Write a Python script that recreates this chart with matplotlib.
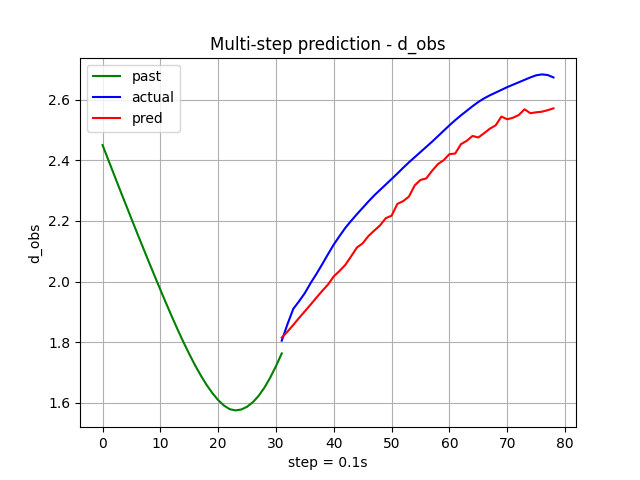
import matplotlib
matplotlib.use("Agg")
import matplotlib.pyplot as plt
import numpy as np

past = [2.45, 2.401, 2.352, 2.303, 2.255, 2.207, 2.159, 2.112, 2.065, 2.019,
        1.973, 1.928, 1.884, 1.841, 1.800, 1.761, 1.724, 1.690, 1.659, 1.632,
        1.609, 1.591, 1.579, 1.575, 1.578, 1.587, 1.602, 1.623, 1.650, 1.683,
        1.721, 1.763]

actual = [1.805, 1.86, 1.91, 1.935, 1.962, 1.995, 2.025, 2.057, 2.09, 2.122,
          2.15, 2.177, 2.20, 2.222, 2.243, 2.264, 2.284, 2.302, 2.32, 2.338,
          2.356, 2.375, 2.393, 2.41, 2.427, 2.444, 2.461, 2.479, 2.497, 2.515,
          2.532, 2.548, 2.563, 2.578, 2.592, 2.604, 2.614, 2.623, 2.632, 2.641,
          2.649, 2.657, 2.665, 2.673, 2.68, 2.683, 2.681, 2.673]

pred = [1.815, 1.835, 1.857, 1.88, 1.902, 1.924, 1.947, 1.969, 1.99, 2.017,
        2.035, 2.055, 2.083, 2.112, 2.126, 2.15, 2.168, 2.185, 2.209, 2.217,
        2.256, 2.265, 2.28, 2.317, 2.335, 2.34, 2.365, 2.387, 2.40, 2.42,
        2.422, 2.453, 2.464, 2.48, 2.475, 2.489, 2.504, 2.515, 2.544, 2.535,
        2.54, 2.549, 2.568, 2.555, 2.558, 2.56, 2.565, 2.571]

past_x = np.arange(len(past))
fut_x = np.arange(len(past) - 1, len(past) - 1 + len(actual))

fig, ax = plt.subplots(figsize=(6.4, 4.8), dpi=100)
ax.plot(past_x, past, color="green", label="past")
ax.plot(fut_x, actual, color="blue", label="actual")
ax.plot(fut_x, pred, color="red", label="pred")
ax.set_title("Multi-step prediction - d_obs")
ax.set_xlabel("step = 0.1s")
ax.set_ylabel("d_obs")
ax.grid(True)
ax.legend(loc="upper left")
fig.savefig("out.png")
